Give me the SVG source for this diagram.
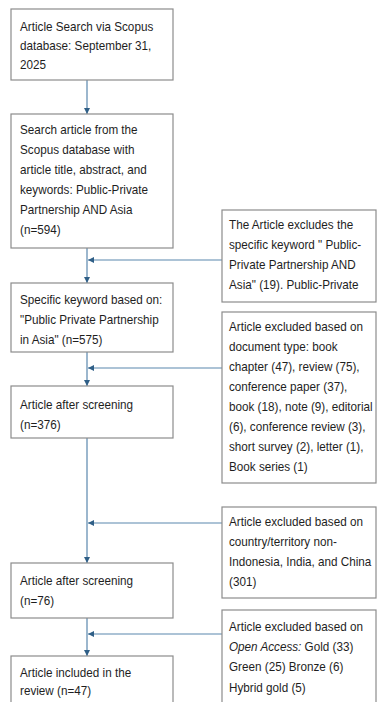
<svg xmlns="http://www.w3.org/2000/svg" width="377" height="702" viewBox="0 0 377 702">
  <style>
    .box { fill: #ffffff; stroke: #8c8c8c; stroke-width: 1.2; }
    .t { font-family: "Liberation Sans", Arial, sans-serif; font-size: 13px; fill: #1e1e1e; }
    .c { fill: none; stroke: #5a87ad; stroke-width: 1.2; }
  </style>
  <defs>
    <marker id="ah" viewBox="0 0 10 10" refX="10" refY="5" markerWidth="6" markerHeight="6" orient="auto" markerUnits="userSpaceOnUse">
      <path d="M0,0 L10,5 L0,10 Z" fill="#2f5f87"/>
    </marker>
  </defs>
  <rect width="377" height="702" fill="#ffffff"/>

  <g id="connectors">
    <line class="c" x1="87" y1="80" x2="87" y2="114" marker-end="url(#ah)"/>
    <line class="c" x1="87" y1="248" x2="87" y2="283" marker-end="url(#ah)"/>
    <line class="c" x1="222" y1="260" x2="88" y2="260" marker-end="url(#ah)"/>
    <line class="c" x1="87" y1="352" x2="87" y2="386" marker-end="url(#ah)"/>
    <line class="c" x1="222" y1="368" x2="88" y2="368" marker-end="url(#ah)"/>
    <line class="c" x1="87" y1="438" x2="87" y2="563" marker-end="url(#ah)"/>
    <line class="c" x1="222" y1="523" x2="88" y2="523" marker-end="url(#ah)"/>
    <line class="c" x1="87" y1="618" x2="87" y2="656" marker-end="url(#ah)"/>
    <line class="c" x1="222" y1="634" x2="88" y2="634" marker-end="url(#ah)"/>
  </g>

  <g id="n1">
    <rect class="box" x="11" y="9" width="162" height="71"/>
    <text class="t" transform="translate(20,0) scale(0.9,1)"><tspan x="0" y="31">Article Search via Scopus</tspan><tspan x="0" y="50">database: September 31,</tspan><tspan x="0" y="69">2025</tspan></text>
  </g>

  <g id="n2">
    <rect class="box" x="11" y="114" width="162" height="134"/>
    <text class="t" transform="translate(20,0) scale(0.9,1)"><tspan x="0" y="134">Search article from the</tspan><tspan x="0" y="154">Scopus database with</tspan><tspan x="0" y="174">article title, abstract, and</tspan><tspan x="0" y="194">keywords: Public-Private</tspan><tspan x="0" y="214">Partnership AND Asia</tspan><tspan x="0" y="234">(n=594)</tspan></text>
  </g>

  <g id="n3">
    <rect class="box" x="11" y="283" width="162" height="69"/>
    <text class="t" transform="translate(20,0) scale(0.9,1)"><tspan x="0" y="304">Specific keyword based on:</tspan><tspan x="0" y="324">"Public Private Partnership</tspan><tspan x="0" y="344">in Asia" (n=575)</tspan></text>
  </g>

  <g id="n4">
    <rect class="box" x="11" y="386" width="162" height="52"/>
    <text class="t" transform="translate(20,0) scale(0.9,1)"><tspan x="0" y="409">Article after screening</tspan><tspan x="0" y="429">(n=376)</tspan></text>
  </g>

  <g id="n5">
    <rect class="box" x="11" y="563" width="162" height="55"/>
    <text class="t" transform="translate(20,0) scale(0.9,1)"><tspan x="0" y="585">Article after screening</tspan><tspan x="0" y="605">(n=76)</tspan></text>
  </g>

  <g id="n6">
    <rect class="box" x="11" y="656" width="162" height="60"/>
    <text class="t" transform="translate(20,0) scale(0.9,1)"><tspan x="0" y="677">Article included in the</tspan><tspan x="0" y="695">review (n=47)</tspan></text>
  </g>

  <g id="e1">
    <rect class="box" x="222" y="210" width="154" height="92"/>
    <text class="t" transform="translate(229,0) scale(0.9,1)"><tspan x="0" y="229">The Article excludes the</tspan><tspan x="0" y="249">specific keyword " Public-</tspan><tspan x="0" y="269">Private Partnership AND</tspan><tspan x="0" y="289">Asia" (19). Public-Private</tspan></text>
  </g>

  <g id="e2">
    <rect class="box" x="222" y="312" width="154" height="171"/>
    <text class="t" transform="translate(229,0) scale(0.9,1)"><tspan x="0" y="331">Article excluded based on</tspan><tspan x="0" y="351">document type: book</tspan><tspan x="0" y="371">chapter (47), review (75),</tspan><tspan x="0" y="391">conference paper (37),</tspan><tspan x="0" y="411">book (18), note (9), editorial</tspan><tspan x="0" y="431">(6), conference review (3),</tspan><tspan x="0" y="451">short survey (2), letter (1),</tspan><tspan x="0" y="471">Book series (1)</tspan></text>
  </g>

  <g id="e3">
    <rect class="box" x="222" y="507" width="154" height="91"/>
    <text class="t" transform="translate(229,0) scale(0.9,1)"><tspan x="0" y="526">Article excluded based on</tspan><tspan x="0" y="546">country/territory non-</tspan><tspan x="0" y="566">Indonesia, India, and China</tspan><tspan x="0" y="586">(301)</tspan></text>
  </g>

  <g id="e4">
    <rect class="box" x="222" y="610" width="154" height="100"/>
    <text class="t" transform="translate(229,0) scale(0.9,1)"><tspan x="0" y="631">Article excluded based on</tspan><tspan x="0" y="651" font-style="italic">Open Access:</tspan><tspan> Gold (33)</tspan><tspan x="0" y="671">Green (25) Bronze (6)</tspan><tspan x="0" y="692">Hybrid gold (5)</tspan></text>
  </g>
</svg>
